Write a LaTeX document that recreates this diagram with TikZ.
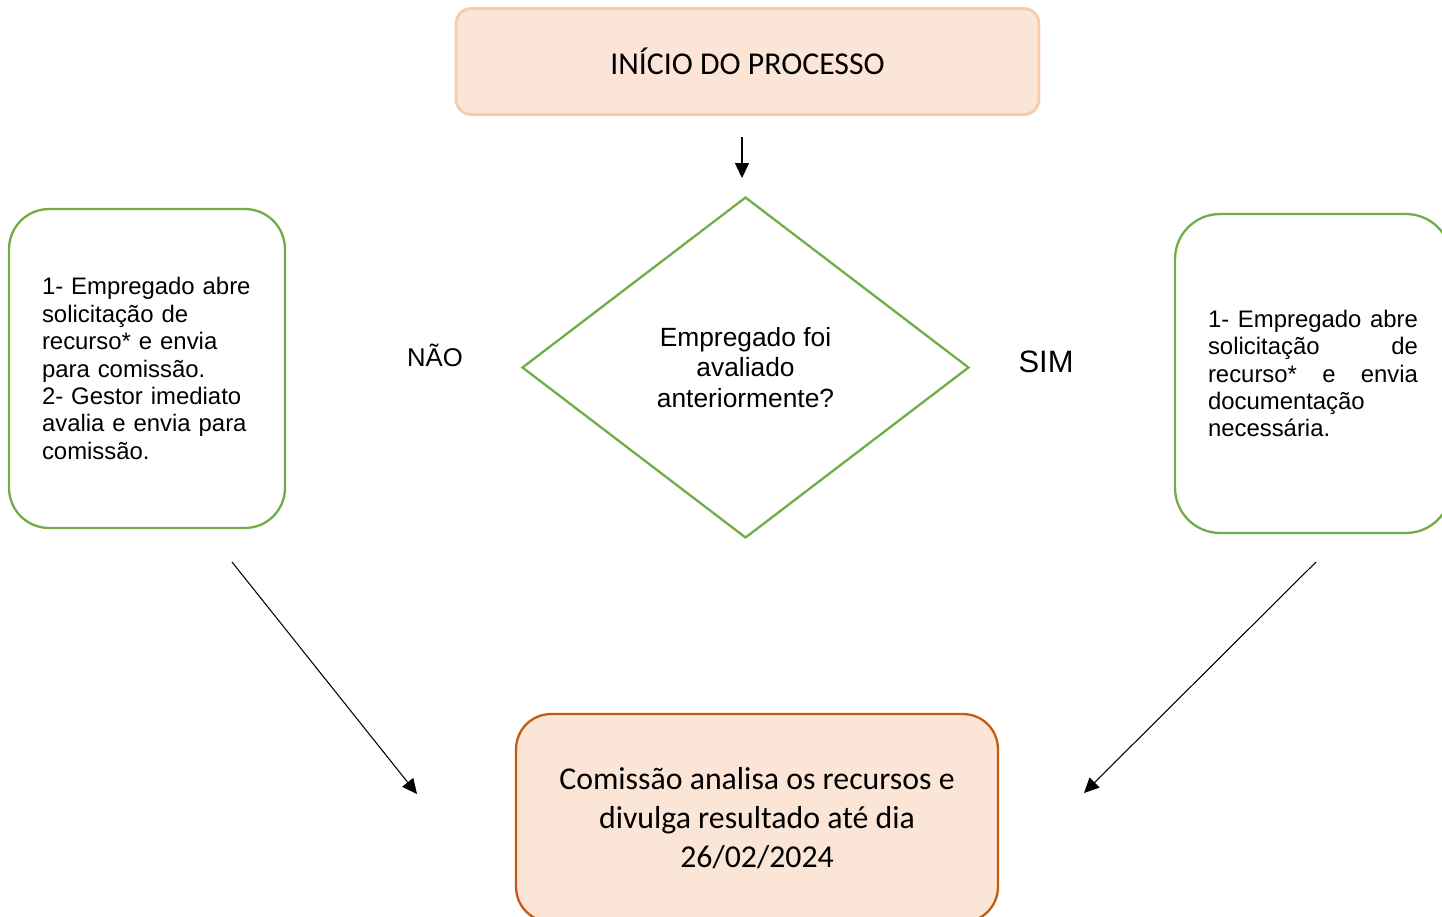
\documentclass[tikz,border=0pt]{standalone}
\usepackage{fontspec}
\setmainfont{Liberation Sans}
\newfontfamily\calibri{Carlito}
\usetikzlibrary{shapes.geometric,arrows.meta}
\definecolor{peach}{HTML}{FBE5D6}
\definecolor{peachline}{HTML}{F8CBAD}
\definecolor{rust}{HTML}{C55A11}
\definecolor{leaf}{HTML}{70AD47}

\begin{document}
\begin{tikzpicture}[x=0.02cm,y=-0.02cm,
  flow/.style={-{Triangle[length=8.5pt,width=8pt]},line width=0.6pt},
  stepbox/.style={draw=leaf,line width=1.3pt,minimum width=5.52cm,minimum height=6.38cm,inner sep=0pt,text width=4.2cm,font=\fontsize{13.6}{15.6}\selectfont},
  peachbox/.style={fill=peach,inner sep=0pt,align=center,font=\calibri\fontsize{18.1}{22.1}\selectfont}]
\clip (0,0) rectangle (1442,916);
% caixas
\node[peachbox,draw=peachline,line width=1.6pt,rounded corners=0.3cm,minimum width=11.66cm,minimum height=2.12cm] (inicio) at (747.5,61.5) {INÍCIO DO PROCESSO};
\node[draw=leaf,line width=1.3pt,shape=diamond,minimum width=8.94cm,minimum height=6.82cm,inner sep=0pt,align=center,font=\fontsize{15}{17.3}\selectfont] (avaliado) at (745.5,367.5) {Empregado foi\\avaliado\\anteriormente?};
\node[stepbox,rounded corners=0.8cm,align=left] (naobox) at (147,368.5) {1- Empregado abre\\solicitação de\\recurso* e envia\\para comissão.\\2- Gestor imediato\\avalia e envia para\\comissão.};
\node[stepbox,rounded corners=0.9cm,align=justify] (simbox) at (1313,373.5) {1- Empregado abre\linebreak solicitação de\linebreak recurso* e envia\linebreak documentação\linebreak necessária.};
\node[peachbox,draw=rust,line width=1.3pt,rounded corners=0.7cm,minimum width=9.64cm,minimum height=4.16cm] (comissao) at (757,818) {Comissão analisa os recursos e\\divulga resultado até dia\\26/02/2024};
% rotulos
\node[anchor=base,font=\fontsize{14.6}{16}\selectfont] (nao) at (435,366) {NÃO};
\node[anchor=base,font=\fontsize{17.6}{20}\selectfont] (sim) at (1046,372) {SIM};
% setas
\coordinate (t1) at (742,137);
\coordinate (t2) at (742,178);
\coordinate (l1) at (232,562);
\coordinate (l2) at (417,794);
\coordinate (r1) at (1316,562);
\coordinate (r2) at (1084,793);
\draw[flow] (t1) -- (t2);
\draw[flow] (l1) -- (l2);
\draw[flow] (r1) -- (r2);
\end{tikzpicture}
\end{document}
